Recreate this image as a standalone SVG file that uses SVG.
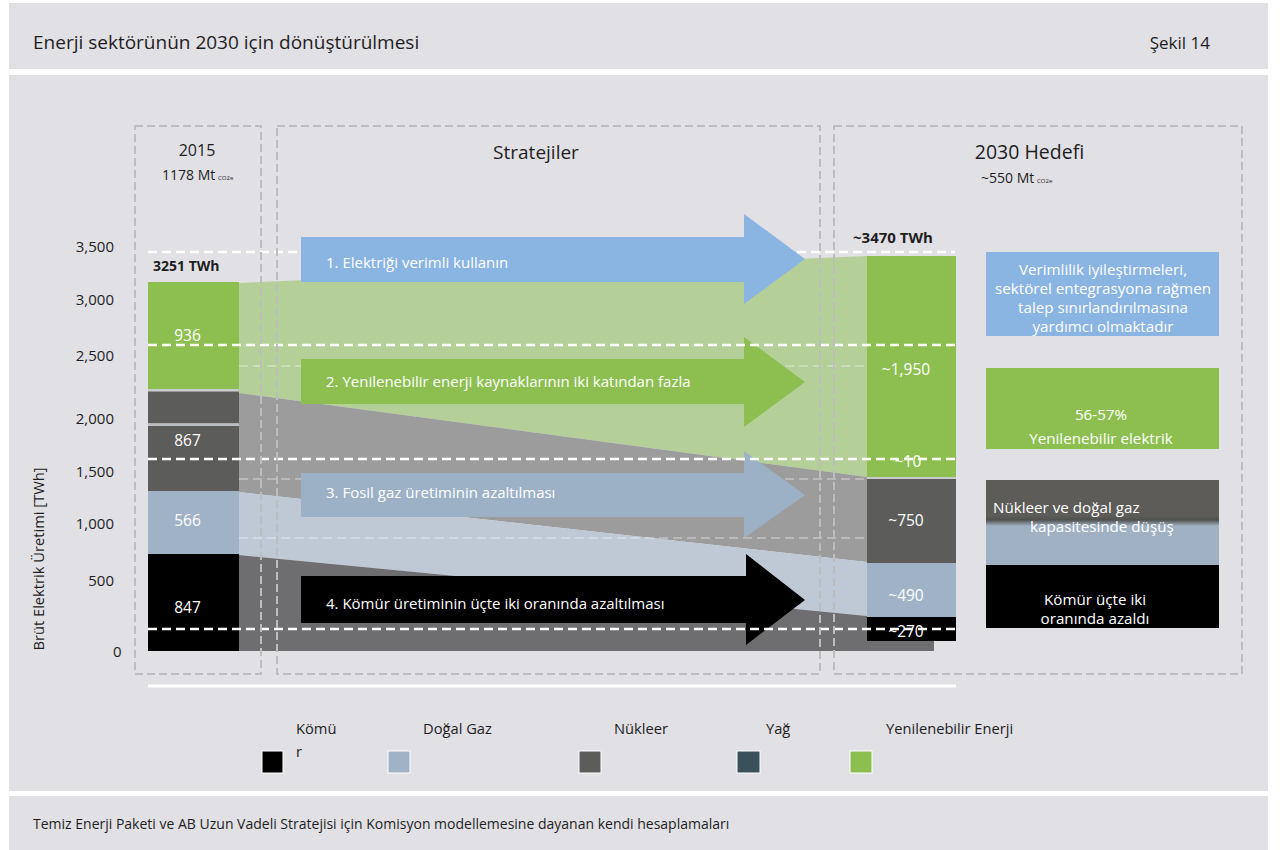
<svg xmlns="http://www.w3.org/2000/svg" width="1280" height="850" viewBox="0 0 1280 850">
<style>
text{font-family:"Open Sans","Noto Sans","Liberation Sans",sans-serif;}
.panel{fill:#E1E0E5}
.dbox{fill:none;stroke:#BDBDBD;stroke-width:2;stroke-dasharray:8 4}
.grid{stroke:#FFFFFF;stroke-width:2.5;stroke-dasharray:9 5;fill:none}
.faint{stroke:#FFFFFF;stroke-opacity:0.3;stroke-width:2;stroke-dasharray:9 5;fill:none}
.dk{fill:#1E1E1E}
.ax{font-size:15px;fill:#1E1E1E;text-anchor:end}
.bl{font-size:15.5px;fill:#FFFFFF;text-anchor:middle}
.at{font-size:15px;fill:#FFFFFF}
.bt{font-size:15.2px;fill:#FFFFFF;text-anchor:middle}
.lg{font-size:14.7px;fill:#1E1E1E}
.sw{stroke:#FFFFFF;stroke-width:1}
.ren{fill:#8DBF50}
.nuc{fill:#5C5C5B}
.gas{fill:#9FB2C6}
.coal{fill:#000000}
</style>
<defs>
<linearGradient id="ngGrad" x1="0" y1="0" x2="0" y2="1">
<stop offset="0" stop-color="#5D5C58"/>
<stop offset="0.42" stop-color="#5D5C58"/>
<stop offset="0.47" stop-color="#505250"/>
<stop offset="0.54" stop-color="#9FB1C3"/>
<stop offset="1" stop-color="#9FB1C3"/>
</linearGradient>
</defs>
<rect width="1280" height="850" fill="#FFFFFF"/>
<g id="header">
<rect class="panel" x="9" y="3" width="1259" height="66"/>
<text x="33" y="49" font-size="19" class="dk">Enerji sektörünün 2030 için dönüştürülmesi</text>
<text x="1210" y="49" font-size="17" class="dk" text-anchor="end">Şekil 14</text>
</g>
<g id="main-panel"><rect class="panel" x="9" y="75" width="1259" height="716"/></g>
<g id="footer">
<rect class="panel" x="9" y="796" width="1259" height="54"/>
<text x="33" y="829" font-size="14" class="dk">Temiz Enerji Paketi ve AB Uzun Vadeli Stratejisi için Komisyon modellemesine dayanan kendi hesaplamaları</text>
</g>
<g id="connectors">
<polygon id="flow-renewable" points="239,283 867,256 867,477 239,393" fill="#B5CF99"/>
<polygon id="flow-nuclear" points="239,393 867,477 867,562 239,492" fill="#9C9C9C"/>
<polygon id="flow-gas" points="239,492 867,562 867,616 239,555" fill="#BFC8D5"/>
<polygon id="flow-coal" points="239,555 867,616 934,616 934,651 239,651" fill="#6E6E70"/>
<line class="faint" x1="239" y1="366" x2="867" y2="366"/>
<line class="faint" x1="239" y1="479" x2="867" y2="479"/>
<line class="faint" x1="239" y1="538" x2="867" y2="538"/>
</g>
<g id="bar-2015">
<rect class="ren" x="148" y="282" width="91" height="107"/>
<rect x="148" y="389" width="91" height="2.5" fill="#C9CBCD"/>
<rect class="nuc" x="148" y="391.5" width="91" height="32"/>
<rect x="148" y="423.5" width="91" height="2.5" fill="#B9BDC1"/>
<rect class="nuc" x="148" y="426" width="91" height="65"/>
<rect class="gas" x="148" y="491" width="91" height="63"/>
<rect class="coal" x="148" y="554" width="91" height="97"/>
</g>
<g id="bar-2030">
<rect class="ren" x="867" y="256" width="89" height="221"/>
<rect x="867" y="477" width="89" height="2" fill="#C9CBCD"/>
<rect class="nuc" x="867" y="479" width="89" height="84"/>
<rect class="gas" x="867" y="563" width="89" height="54"/>
<rect class="coal" x="867" y="617" width="89" height="24"/>
</g>
<g id="arrow-1">
<polygon points="301,237 744,237 744,214 805,259 744,304 744,282 301,282" fill="#8AB4E2"/>
<text class="at" x="326" y="268">1. Elektriği verimli kullanın</text>
</g>
<g id="arrow-2">
<polygon points="301,359 744,359 744,337 805,382 744,427 744,404 301,404" fill="#8DBF50"/>
<text class="at" x="326" y="387">2. Yenilenebilir enerji kaynaklarının iki katından fazla</text>
</g>
<g id="arrow-3">
<polygon points="301,473 744,473 744,451 805,495 744,538 744,517 301,517" fill="#9DB1C6"/>
<text class="at" x="326" y="498">3. Fosil gaz üretiminin azaltılması</text>
</g>
<g id="arrow-4">
<polygon points="301,576 746,576 746,554 805,600 746,645 746,623 301,623" fill="#000000"/>
<text class="at" x="326" y="609">4. Kömür üretiminin üçte iki oranında azaltılması</text>
</g>
<g id="bar-labels">
<text class="bl" x="187.5" y="341">936</text>
<text class="bl" x="187.5" y="446">867</text>
<text class="bl" x="187.5" y="526">566</text>
<text class="bl" x="187.5" y="613">847</text>
<text class="bl" x="906" y="375">~1,950</text>
<text class="bl" x="908" y="467">~10</text>
<text class="bl" x="906" y="526">~750</text>
<text class="bl" x="906" y="601">~490</text>
<text class="bl" x="906" y="637">~270</text>
<text x="153" y="271" font-size="14" font-weight="bold" class="dk">3251 TWh</text>
<text x="853" y="243" font-size="15" font-weight="bold" class="dk">~3470 TWh</text>
</g>
<g id="gridlines">
<line class="grid" x1="148" y1="252" x2="301" y2="252"/>
<line class="grid" x1="797" y1="252" x2="955" y2="252"/>
<line class="grid" x1="148" y1="345" x2="955" y2="345"/>
<line class="grid" x1="148" y1="459" x2="955" y2="459"/>
<line class="grid" x1="148" y1="629" x2="955" y2="629"/>
<line x1="148" y1="686" x2="956" y2="686" stroke="#FFFFFF" stroke-width="3"/>
</g>
<g id="box-2015">
<rect class="dbox" x="135" y="126" width="126" height="548"/>
<text x="197" y="156" font-size="16" class="dk" text-anchor="middle">2015</text>
<text x="162" y="180" font-size="14" class="dk">1178 Mt</text>
<text x="218" y="180" font-size="6" class="dk">CO2e</text>
</g>
<g id="box-strategies">
<rect class="dbox" x="277" y="126" width="543" height="548"/>
<text x="536" y="159" font-size="19" class="dk" text-anchor="middle">Stratejiler</text>
</g>
<g id="box-2030">
<rect class="dbox" x="834" y="126" width="408" height="548"/>
<text x="1029.5" y="159" font-size="19.5" class="dk" text-anchor="middle">2030 Hedefi</text>
<text x="981" y="183" font-size="14" class="dk">~550 Mt</text>
<text x="1037" y="183" font-size="6" class="dk">CO2e</text>
</g>
<g id="y-axis">
<text class="ax" x="114" y="252">3,500</text>
<text class="ax" x="114" y="305">3,000</text>
<text class="ax" x="114" y="361">2,500</text>
<text class="ax" x="114" y="424">2,000</text>
<text class="ax" x="114" y="477">1,500</text>
<text class="ax" x="114" y="529">1,000</text>
<text class="ax" x="114" y="586">500</text>
<text x="113" y="657" font-size="15" class="dk">0</text>
<text x="44" y="559" font-size="14.7" class="dk" text-anchor="middle" transform="rotate(-90 44 559)">Brüt Elektrik Üretimi [TWh]</text>
</g>
<g id="note-efficiency">
<rect x="986" y="252" width="233" height="84" fill="#8AB4E2"/>
<text class="bt" x="1103" y="274.5">Verimlilik iyileştirmeleri,</text>
<text class="bt" x="1103" y="293.5">sektörel entegrasyona rağmen</text>
<text class="bt" x="1103" y="312.5">talep sınırlandırılmasına</text>
<text class="bt" x="1103" y="331.5">yardımcı olmaktadır</text>
</g>
<g id="note-renewable">
<rect x="986" y="368" width="233" height="81" fill="#8DBF50"/>
<text class="bt" x="1101" y="420">56-57%</text>
<text class="bt" x="1101" y="444">Yenilenebilir elektrik</text>
</g>
<g id="note-nuclear-gas">
<rect x="986" y="480" width="233" height="85" fill="url(#ngGrad)"/>
<text x="993" y="513" font-size="15.2" fill="#FFFFFF">Nükleer ve doğal gaz</text>
<text x="1030" y="532" font-size="15.2" fill="#FFFFFF">kapasitesinde düşüş</text>
</g>
<g id="note-coal">
<rect x="986" y="565" width="233" height="63" fill="#000000"/>
<text class="bt" x="1095" y="605">Kömür üçte iki</text>
<text class="bt" x="1095" y="623.5">oranında azaldı</text>
</g>
<g id="legend">
<g id="legend-coal"><rect class="coal sw" x="262" y="751" width="21" height="22"/><text class="lg" x="296" y="734">Kömü</text><text class="lg" x="296" y="757">r</text></g>
<g id="legend-gas"><rect class="gas sw" x="388" y="751" width="22" height="22"/><text class="lg" x="423" y="734">Doğal Gaz</text></g>
<g id="legend-nuclear"><rect class="sw" x="579" y="751" width="22" height="22" fill="#5C5C5A"/><text class="lg" x="614" y="734">Nükleer</text></g>
<g id="legend-oil"><rect class="sw" x="737" y="751" width="23" height="22" fill="#3A505A"/><text class="lg" x="766" y="734">Yağ</text></g>
<g id="legend-renewable"><rect class="ren sw" x="850" y="751" width="22" height="22"/><text class="lg" x="886" y="734">Yenilenebilir Enerji</text></g>
</g>
</svg>
